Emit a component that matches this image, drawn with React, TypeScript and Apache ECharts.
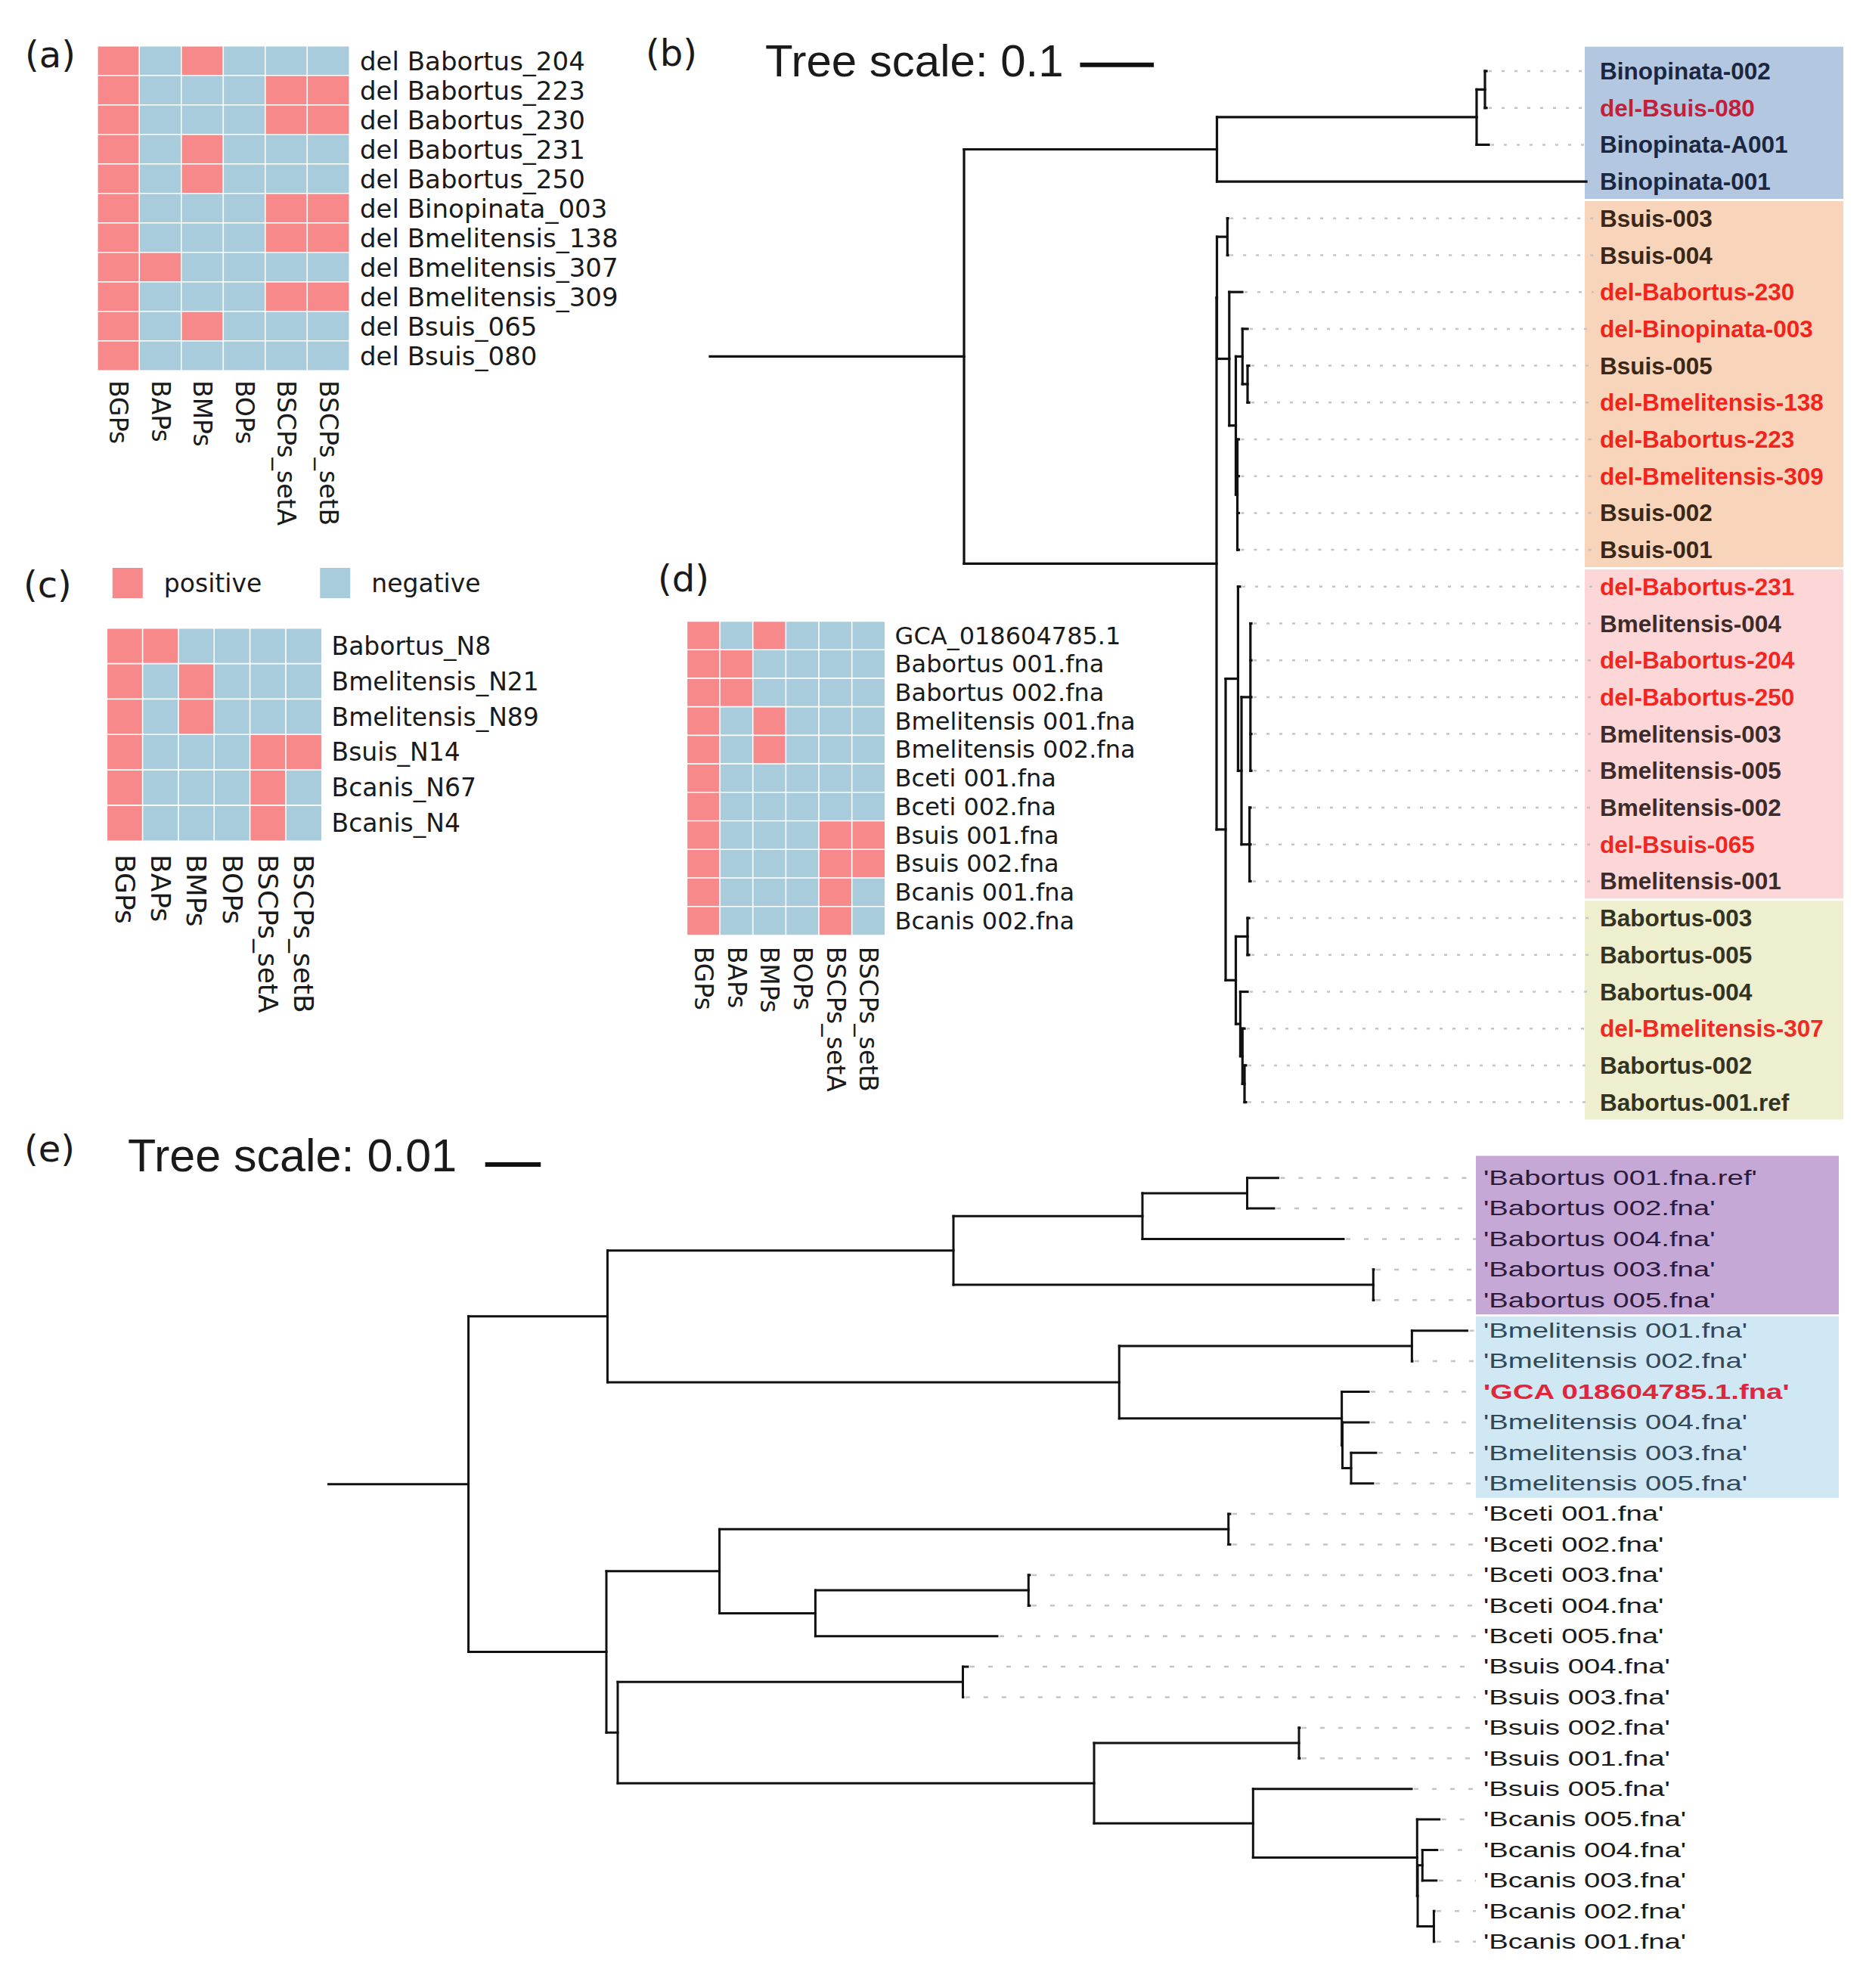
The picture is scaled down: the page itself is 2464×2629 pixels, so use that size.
import React, { useEffect, useRef } from 'react';
import * as echarts from 'echarts';

const CANVAS_W = 2464;
const CANVAS_H = 2629;

// ---------------- heatmap data ----------------
const traits = ['BGPs', 'BAPs', 'BMPs', 'BOPs', 'BSCPs_setA', 'BSCPs_setB'];

const aRows = ['del Babortus_204', 'del Babortus_223', 'del Babortus_230', 'del Babortus_231', 'del Babortus_250', 'del Binopinata_003', 'del Bmelitensis_138', 'del Bmelitensis_307', 'del Bmelitensis_309', 'del Bsuis_065', 'del Bsuis_080'];
const aValues = [
  [1, 0, 1, 0, 0, 0],
  [1, 0, 0, 0, 1, 1],
  [1, 0, 0, 0, 1, 1],
  [1, 0, 1, 0, 0, 0],
  [1, 0, 1, 0, 0, 0],
  [1, 0, 0, 0, 1, 1],
  [1, 0, 0, 0, 1, 1],
  [1, 1, 0, 0, 0, 0],
  [1, 0, 0, 0, 1, 1],
  [1, 0, 1, 0, 0, 0],
  [1, 0, 0, 0, 0, 0],
];

const cRows = ['Babortus_N8', 'Bmelitensis_N21', 'Bmelitensis_N89', 'Bsuis_N14', 'Bcanis_N67', 'Bcanis_N4'];
const cValues = [
  [1, 1, 0, 0, 0, 0],
  [1, 0, 1, 0, 0, 0],
  [1, 0, 1, 0, 0, 0],
  [1, 0, 0, 0, 1, 1],
  [1, 0, 0, 0, 1, 0],
  [1, 0, 0, 0, 1, 0],
];

const dRows = ['GCA_018604785.1', 'Babortus 001.fna', 'Babortus 002.fna', 'Bmelitensis 001.fna', 'Bmelitensis 002.fna', 'Bceti 001.fna', 'Bceti 002.fna', 'Bsuis 001.fna', 'Bsuis 002.fna', 'Bcanis 001.fna', 'Bcanis 002.fna'];
const dValues = [
  [1, 0, 1, 0, 0, 0],
  [1, 1, 0, 0, 0, 0],
  [1, 1, 0, 0, 0, 0],
  [1, 0, 1, 0, 0, 0],
  [1, 0, 1, 0, 0, 0],
  [1, 0, 0, 0, 0, 0],
  [1, 0, 0, 0, 0, 0],
  [1, 0, 0, 0, 1, 1],
  [1, 0, 0, 0, 1, 1],
  [1, 0, 0, 0, 1, 0],
  [1, 0, 0, 0, 1, 0],
];

const legendLabels = ['positive', 'negative'];

// ---------------- tree (b) ----------------
const bLeaves = ['Binopinata-002', 'del-Bsuis-080', 'Binopinata-A001', 'Binopinata-001', 'Bsuis-003', 'Bsuis-004', 'del-Babortus-230', 'del-Binopinata-003', 'Bsuis-005', 'del-Bmelitensis-138', 'del-Babortus-223', 'del-Bmelitensis-309', 'Bsuis-002', 'Bsuis-001', 'del-Babortus-231', 'Bmelitensis-004', 'del-Babortus-204', 'del-Babortus-250', 'Bmelitensis-003', 'Bmelitensis-005', 'Bmelitensis-002', 'del-Bsuis-065', 'Bmelitensis-001', 'Babortus-003', 'Babortus-005', 'Babortus-004', 'del-Bmelitensis-307', 'Babortus-002', 'Babortus-001.ref'];
// internal nodes: [id, parent, distance from stem start]
const bNodes: [string, string | null, number][] = [
  ['root', null, 0.3443],
  ['Bino', 'root', 0.687],
  ['Bino123', 'Bino', 1.0389],
  ['Bino12', 'Bino123', 1.0502],
  ['P', 'root', 0.6865],
  ['S', 'P', 0.687],
  ['A', 'S', 0.7012],
  ['C', 'S', 0.7037],
  ['H', 'C', 0.7126],
  ['F', 'H', 0.7216],
  ['G', 'F', 0.7285],
  ['I', 'H', 0.7147],
  ['M', 'P', 0.6988],
  ['N', 'M', 0.7156],
  ['Q', 'N', 0.7203],
  ['R', 'Q', 0.7324],
  ['T', 'Q', 0.7312],
  ['O', 'M', 0.7126],
  ['U', 'O', 0.7285],
  ['V', 'O', 0.7187],
  ['W', 'V', 0.7216],
  ['X', 'W', 0.7244],
];
const bLeafParent = ['Bino12', 'Bino12', 'Bino123', 'Bino', 'A', 'A', 'C', 'F', 'G', 'G', 'I', 'I', 'I', 'I', 'N', 'R', 'R', 'R', 'R', 'R', 'T', 'T', 'T', 'U', 'U', 'V', 'W', 'X', 'X'];
const bLeafX = [1.0523, 1.0523, 1.0553, 1.1875, 0.702, 0.702, 0.7213, 0.7285, 0.7306, 0.7306, 0.7167, 0.7167, 0.7167, 0.7167, 0.7182, 0.7336, 0.7336, 0.7336, 0.7336, 0.7336, 0.7326, 0.7326, 0.7326, 0.7306, 0.7306, 0.7285, 0.7244, 0.7264, 0.7264];
const bClades = [[0, 3], [4, 13], [14, 22], [23, 28]];
const bScale = 0.1;

// ---------------- tree (e) ----------------
const eLeaves = ["'Babortus 001.fna.ref'", "'Babortus 002.fna'", "'Babortus 004.fna'", "'Babortus 003.fna'", "'Babortus 005.fna'", "'Bmelitensis 001.fna'", "'Bmelitensis 002.fna'", "'GCA 018604785.1.fna'", "'Bmelitensis 004.fna'", "'Bmelitensis 003.fna'", "'Bmelitensis 005.fna'", "'Bceti 001.fna'", "'Bceti 002.fna'", "'Bceti 003.fna'", "'Bceti 004.fna'", "'Bceti 005.fna'", "'Bsuis 004.fna'", "'Bsuis 003.fna'", "'Bsuis 002.fna'", "'Bsuis 001.fna'", "'Bsuis 005.fna'", "'Bcanis 005.fna'", "'Bcanis 004.fna'", "'Bcanis 003.fna'", "'Bcanis 002.fna'", "'Bcanis 001.fna'"];
const eNodes: [string, string | null, number][] = [
  ['root', null, 0.02518],
  ['AbMel', 'root', 0.0502],
  ['Ab', 'AbMel', 0.11245],
  ['Ab124', 'Ab', 0.14646],
  ['Ab12', 'Ab124', 0.16531],
  ['Ab35', 'Ab', 0.188],
  ['Mel', 'AbMel', 0.14228],
  ['Mel12', 'Mel', 0.19495],
  ['MelB', 'Mel', 0.18233],
  ['MelB2', 'MelB', 0.18245],
  ['Mel35', 'MelB2', 0.18401],
  ['CS', 'root', 0.05],
  ['Ceti', 'CS', 0.07035],
  ['Ceti12', 'Ceti', 0.16194],
  ['Ceti345', 'Ceti', 0.08761],
  ['Ceti34', 'Ceti345', 0.12596],
  ['SC', 'CS', 0.05204],
  ['Suis43', 'SC', 0.11415],
  ['SCB', 'SC', 0.13776],
  ['Suis12', 'SCB', 0.17463],
  ['SCC', 'SCB', 0.16637],
  ['Canis', 'SCC', 0.19589],
  ['Canis2', 'Canis', 0.19599],
  ['Canis43', 'Canis2', 0.19684],
  ['Canis21', 'Canis2', 0.1989],
];
const eLeafParent = ['Ab12', 'Ab12', 'Ab124', 'Ab35', 'Ab35', 'Mel12', 'Mel12', 'MelB', 'MelB2', 'Mel35', 'Mel35', 'Ceti12', 'Ceti12', 'Ceti34', 'Ceti34', 'Ceti345', 'Suis43', 'Suis43', 'Suis12', 'Suis12', 'SCC', 'Canis', 'Canis43', 'Canis43', 'Canis21', 'Canis21'];
const eLeafX = [0.17087, 0.17014, 0.18265, 0.1881, 0.1881, 0.20491, 0.19503, 0.18714, 0.18714, 0.1885, 0.18796, 0.16224, 0.16224, 0.12619, 0.12619, 0.12034, 0.11503, 0.1142, 0.17476, 0.17476, 0.1949, 0.19989, 0.1995, 0.19936, 0.19898, 0.19898];
const eClades = [[0, 4], [5, 10]];
const eHighlight = ["'GCA 018604785.1.fna'"];
const eScale = 0.01;

// ---------------- styles ----------------
const POS = '#F7898B';
const NEG = '#A8CCDB';
const INK = '#1a1a1a';
const HM_FONT = 'DejaVu Sans';
const bBoxColors = ['#B3C7E0', '#F8D5BA', '#FDD7D7', '#EDEFCF'];
const bInk = ['#1B2740', '#3A2718', '#3B2C2C', '#33331F'];
const bRed = ['#C41E3A', '#F2231B', '#F2251F', '#EF2A22'];
const eBoxColors = ['#C6A8D7', '#CFE8F4'];
const eInk = ['#2D1B3C', '#32495A'];

const TB = { left: 939, unitPx: 976, y0: 94, step: 48.7, xMax: 1.55, leaderEnd: 2108, labelX: 2116, boxL: 2096, boxR: 2438, firstTop: 0.66, scaleX0: 0.5015, scaleY: -0.17 };
const TE = { left: 434.5, unitPx: 7350, y0: 1557.7, step: 40.4, xMax: 0.275, leaderEnd: 1952, labelX: 1962, boxL: 1952, boxR: 2432, firstTop: 0.72, scaleX0: 0.02819, scaleY: -0.44 };

function heatData(values: number[][]) {
  const out: number[][] = [];
  values.forEach((row, r) => row.forEach((v, c) => out.push([c, r, v])));
  return out;
}

function buildTree(nodes: [string, string | null, number][], leafParent: string[], leafX: number[]) {
  const info: Record<string, any> = {};
  let rootId = '';
  nodes.forEach(([id, p, x]) => {
    info[id] = { x, parent: p, kidNodes: [] as string[], kidLeaves: [] as number[], y: undefined as number | undefined };
    if (p === null) rootId = id;
  });
  nodes.forEach(([id, p]) => { if (p !== null) info[p].kidNodes.push(id); });
  leafParent.forEach((p, i) => info[p].kidLeaves.push(i));
  const yOf = (id: string): number => {
    const n = info[id];
    if (n.y !== undefined) return n.y;
    const ys = [...n.kidLeaves, ...n.kidNodes.map(yOf)];
    n.y = (Math.min(...ys) + Math.max(...ys)) / 2;
    return n.y;
  };
  yOf(rootId);
  const segs: number[][] = [];
  const root = info[rootId];
  segs.push([0, root.y, root.x, root.y]);
  Object.keys(info).forEach((id) => {
    const n = info[id];
    const ys = [...n.kidLeaves, ...n.kidNodes.map((k: string) => info[k].y)];
    segs.push([n.x, Math.min(...ys), n.x, Math.max(...ys)]);
    if (n.parent !== null) segs.push([info[n.parent].x, n.y, n.x, n.y]);
  });
  leafParent.forEach((p, i) => segs.push([info[p].x, i, leafX[i], i]));
  return segs;
}

function cladeOf(clades: number[][], i: number) {
  for (let k = 0; k < clades.length; k++) if (i >= clades[k][0] && i <= clades[k][1]) return k;
  return -1;
}

function heatGrid(left: number, top: number, width: number, height: number) {
  return { left, top, width, height, containLabel: false, outerBoundsMode: 'none' };
}

function heatAxes(idx: number, rows: string[], rowFont: number, colFont: number, rowMargin: number, colMargin: number) {
  const x = {
    type: 'category', gridIndex: idx, data: traits,
    axisLine: { show: false }, axisTick: { show: false }, splitLine: { show: false },
    axisLabel: { interval: 0, rotate: -90, margin: colMargin, fontFamily: HM_FONT, fontSize: colFont, color: INK },
  };
  const y = {
    type: 'category', gridIndex: idx, data: rows, inverse: true, position: 'right',
    axisLine: { show: false }, axisTick: { show: false }, splitLine: { show: false },
    axisLabel: { interval: 0, margin: rowMargin, fontFamily: HM_FONT, fontSize: rowFont, color: INK },
  };
  return { x, y };
}

function treeGrid(T: any, nLeaves: number) {
  return {
    left: T.left, top: T.y0 - T.step / 2, width: T.xMax * T.unitPx, height: nLeaves * T.step,
    containLabel: false, outerBoundsMode: 'none',
  };
}

function treeSeries(axis: number, T: any, leaves: string[], leafX: number[], segs: number[][], clades: number[][], boxColors: string[],
  labelStyle: (i: number) => { fill: string; font: string; scaleX: number }, lineWidth: number, dash: number[], scaleLen: number) {
  const boxes = {
    type: 'custom', xAxisIndex: axis, yAxisIndex: axis, z: 1, silent: true,
    data: clades.map(([s, e], k) => [s, e, k]),
    encode: { y: [0, 1] },
    renderItem: (_p: any, api: any) => {
      const s = api.value(0); const e = api.value(1); const k = api.value(2);
      const yTop = api.coord([0, s - (k === 0 ? T.firstTop : 0.47)])[1];
      const yBot = api.coord([0, e + 0.47])[1];
      return { type: 'rect', shape: { x: T.boxL, y: yTop, width: T.boxR - T.boxL, height: yBot - yTop }, style: { fill: boxColors[k] } };
    },
  };
  const leaders = {
    type: 'custom', xAxisIndex: axis, yAxisIndex: axis, z: 2, silent: true,
    data: leafX.map((x, i) => [x, i]),
    encode: { x: 0, y: 1 },
    renderItem: (_p: any, api: any) => {
      const a = api.coord([api.value(0), api.value(1)]);
      if (T.leaderEnd - a[0] < 2) return null;
      return { type: 'line', shape: { x1: a[0] + 3, y1: a[1], x2: T.leaderEnd, y2: a[1] }, style: { stroke: '#c4c4c4', lineWidth: 2.5, lineDash: dash } };
    },
  };
  const branches = {
    type: 'custom', xAxisIndex: axis, yAxisIndex: axis, z: 3, silent: true,
    data: segs,
    encode: { x: [0, 2], y: [1, 3] },
    renderItem: (_p: any, api: any) => {
      const a = api.coord([api.value(0), api.value(1)]);
      const b = api.coord([api.value(2), api.value(3)]);
      return { type: 'line', shape: { x1: a[0], y1: a[1], x2: b[0], y2: b[1] }, style: { stroke: '#111', lineWidth, lineCap: 'square' } };
    },
  };
  const labels = {
    type: 'custom', xAxisIndex: axis, yAxisIndex: axis, z: 4, silent: true,
    data: leafX.map((x, i) => [x, i]),
    encode: { x: 0, y: 1 },
    renderItem: (p: any, api: any) => {
      const i = p.dataIndex;
      const y = api.coord([0, api.value(1)])[1];
      const st = labelStyle(i);
      return {
        type: 'text', x: T.labelX, y, scaleX: st.scaleX,
        style: { text: leaves[i], x: 0, y: 0, fill: st.fill, font: st.font, textAlign: 'left', textVerticalAlign: 'middle', align: 'left', verticalAlign: 'middle' },
      };
    },
  };
  const scaleBar = {
    type: 'custom', xAxisIndex: axis, yAxisIndex: axis, z: 4, silent: true,
    data: [[T.scaleX0, T.scaleY, T.scaleX0 + scaleLen]],
    encode: { x: [0, 2], y: 1 },
    renderItem: (_p: any, api: any) => {
      const a = api.coord([api.value(0), api.value(1)]);
      const b = api.coord([api.value(2), api.value(1)]);
      return { type: 'line', shape: { x1: a[0], y1: a[1], x2: b[0], y2: b[1] }, style: { stroke: '#111', lineWidth: 6 } };
    },
  };
  return [boxes, leaders, branches, labels, scaleBar];
}

function txt(text: string, x: number, y: number, font: string) {
  return {
    type: 'text', x, y, silent: true,
    style: { text, x: 0, y: 0, font, fill: INK, textAlign: 'left', textVerticalAlign: 'middle', align: 'left', verticalAlign: 'middle' },
  };
}

function buildOption() {
  const ha = heatAxes(0, aRows, 34, 33, 14, 13);
  const hc = heatAxes(1, cRows, 33, 36, 13, 18);
  const hd = heatAxes(2, dRows, 32, 33, 13, 15);
  const bSegs = buildTree(bNodes, bLeafParent, bLeafX);
  const eSegs = buildTree(eNodes, eLeafParent, eLeafX);

  const treeAxis = (idx: number, max: number, n: number) => ({
    x: { type: 'value', gridIndex: idx, min: 0, max, show: false },
    y: { type: 'value', gridIndex: idx, min: -0.5, max: n - 0.5, inverse: true, show: false },
  });
  const tb = treeAxis(3, TB.xMax, bLeaves.length);
  const te = treeAxis(4, TE.xMax, eLeaves.length);

  const heatSeries = (idx: number, values: number[][]) => ({
    type: 'heatmap', xAxisIndex: idx, yAxisIndex: idx, data: heatData(values), silent: true,
    itemStyle: { borderColor: '#ffffff', borderWidth: 1.6 },
    emphasis: { disabled: true },
  });

  const bSeries = treeSeries(3, TB, bLeaves, bLeafX, bSegs, bClades, bBoxColors, (i) => {
    const k = cladeOf(bClades, i);
    const red = bLeaves[i].startsWith('del-');
    return { fill: red ? bRed[k] : bInk[k], font: 'bold 31.5px "Liberation Sans", Arial, sans-serif', scaleX: 1 };
  }, 3.2, [4, 13], bScale);

  const eSeries = treeSeries(4, TE, eLeaves, eLeafX, eSegs, eClades, eBoxColors, (i) => {
    const k = cladeOf(eClades, i);
    const red = eHighlight.includes(eLeaves[i]);
    const fill = red ? '#E1253A' : k >= 0 ? eInk[k] : INK;
    const font = (red ? 'bold ' : '') + '27px "Liberation Sans", Arial, sans-serif';
    return { fill, font, scaleX: 1.42 };
  }, 3, [6, 18], eScale);

  return {
    animation: false,
    backgroundColor: '#ffffff',
    grid: [
      heatGrid(129, 61, 333, 429),
      heatGrid(141.5, 831, 284, 281),
      heatGrid(908.6, 821.7, 262, 415),
      treeGrid(TB, bLeaves.length),
      treeGrid(TE, eLeaves.length),
    ],
    xAxis: [ha.x, hc.x, hd.x, tb.x, te.x],
    yAxis: [ha.y, hc.y, hd.y, tb.y, te.y],
    visualMap: [{
      type: 'piecewise', seriesIndex: [0, 1, 2], orient: 'horizontal', inverse: true,
      left: 148.8, top: 751, padding: 0,
      itemWidth: 40, itemHeight: 40, itemGap: 77, textGap: 28, itemSymbol: 'rect', align: 'left',
      selectedMode: false, showLabel: true,
      pieces: [
        { value: 1, label: legendLabels[0], color: POS },
        { value: 0, label: legendLabels[1], color: NEG },
      ],
      textStyle: { fontFamily: HM_FONT, fontSize: 33, color: INK },
    }],
    series: [
      heatSeries(0, aValues),
      heatSeries(1, cValues),
      heatSeries(2, dValues),
      ...bSeries,
      ...eSeries,
    ],
    graphic: [
      txt('(a)', 33, 72, '48px "DejaVu Sans"'),
      txt('(b)', 854, 70, '48px "DejaVu Sans"'),
      txt('(c)', 31, 773, '48px "DejaVu Sans"'),
      txt('(d)', 870, 765, '48px "DejaVu Sans"'),
      txt('(e)', 32, 1519, '48px "DejaVu Sans"'),
      txt('Tree scale: ' + bScale, 1012, 80, '60px "Liberation Sans", Arial, sans-serif'),
      txt('Tree scale: ' + eScale, 169, 1528, '61px "Liberation Sans", Arial, sans-serif'),
    ],
  };
}

export default function App() {
  const ref = useRef<HTMLDivElement>(null);
  useEffect(() => {
    if (!ref.current) return;
    const chart = echarts.init(ref.current, null, { renderer: 'svg', width: CANVAS_W, height: CANVAS_H });
    chart.setOption(buildOption() as any);
    return () => chart.dispose();
  }, []);
  return (
    <div
      ref={ref}
      style={{ position: 'absolute', left: 0, top: 0, width: CANVAS_W, height: CANVAS_H, background: '#fff' }}
    />
  );
}
